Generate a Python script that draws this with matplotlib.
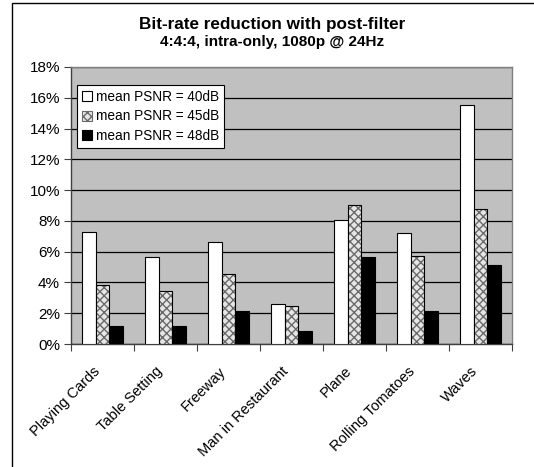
import numpy as np, matplotlib
matplotlib.use("Agg")
import matplotlib.pyplot as plt
from matplotlib.patches import Rectangle
from matplotlib.ticker import PercentFormatter
from matplotlib.transforms import ScaledTranslation

plt.rcParams['font.family'] = ['Liberation Sans', 'DejaVu Sans']

scenes = ["Playing Cards", "Table Setting", "Freeway", "Man in Restaurant",
          "Plane", "Rolling Tomatoes", "Waves"]
psnr40 = [7.3, 5.65, 6.65, 2.6, 8.05, 7.2, 15.5]
psnr45 = [3.85, 3.45, 4.55, 2.5, 9.05, 5.7, 8.75]
psnr48 = [1.15, 1.15, 2.15, 0.85, 5.65, 2.15, 5.15]
series_names = ["mean PSNR = 40dB", "mean PSNR = 45dB", "mean PSNR = 48dB"]


def main():
    fig = plt.figure(figsize=(5.34, 4.67), dpi=100, facecolor="white")
    ax = fig.add_axes([71/534, 1 - 344/467, 441/534, 277/467])
    ax.set_facecolor("#c0c0c0")

    x = np.arange(len(scenes))
    w = 0.222
    ax.bar(x - w, psnr40, w, color="white", edgecolor="black", lw=0.8,
           label=series_names[0], zorder=3)
    # checkered fill: draw hatch first, then outline on top
    ax.bar(x, psnr45, w, color="#e6e6e6", edgecolor="#6a6a6a", hatch="xxxx",
           lw=0, zorder=3)
    ax.bar(x, psnr45, w, color="none", edgecolor="black", lw=0.8, zorder=4)
    ax.bar(x + w, psnr48, w, color="black", edgecolor="black", lw=0.8,
           label=series_names[2], zorder=3)

    h45 = Rectangle((0, 0), 1, 1, facecolor="#e6e6e6", edgecolor="#6a6a6a",
                    hatch="xxxx", lw=0.8)
    handles, labels = ax.get_legend_handles_labels()
    handles = [handles[0], h45, handles[1]]
    leg = ax.legend(handles, series_names, loc="upper left",
                    bbox_to_anchor=(0.0136, 0.935), fontsize=9.8, frameon=True,
                    fancybox=False, edgecolor="black", framealpha=1,
                    handlelength=0.75, handleheight=0.75, handletextpad=0.3,
                    borderpad=0.35, labelspacing=0.42, borderaxespad=0)
    leg.get_frame().set_linewidth(0.8)

    ax.set_ylim(0, 18)
    ax.set_yticks(np.arange(0, 19, 2))
    ax.yaxis.set_major_formatter(PercentFormatter(decimals=0))
    ax.set_xlim(-0.5, len(scenes) - 0.5)
    ax.set_xticks(np.arange(-0.5, len(scenes), 1.0))
    ax.set_xticklabels([])
    # category labels placed by hand so they sit like the Excel ones
    off = ScaledTranslation(-10/100, -20/100, fig.dpi_scale_trans)
    for i, name in enumerate(scenes):
        ax.text(x[i], 0, name, transform=ax.get_xaxis_transform() + off,
                rotation=45, rotation_mode="anchor", ha="right", va="top",
                fontsize=10.5)
    ax.tick_params(axis="x", which="major", length=5, color="#404040")
    ax.tick_params(axis="y", length=5, color="#404040", labelsize=11, pad=3)

    ax.yaxis.grid(True, color="black", lw=0.9)
    ax.set_axisbelow(True)
    for s in ax.spines.values():
        s.set_color("#808080")
        s.set_linewidth(1.0)
    ax.spines["left"].set_color("#404040")
    ax.spines["bottom"].set_color("#404040")

    fig.text(272/534, 1 - 25/467, "Bit-rate reduction with post-filter",
             ha="center", va="center", fontsize=12.3, fontweight="bold")
    fig.text(272/534, 1 - 42/467, "4:4:4, intra-only, 1080p @ 24Hz",
             ha="center", va="center", fontsize=11, fontweight="bold")

    # outer frame (cropped on right/bottom in the original)
    fig.add_artist(Rectangle((11.5/534, -0.1), 1.2, 1.1 - 2.5/467,
                             transform=fig.transFigure, fill=False,
                             edgecolor="black", lw=1.0))

    fig.savefig("out.png", dpi=100, facecolor="white")


if __name__ == "__main__":
    main()
